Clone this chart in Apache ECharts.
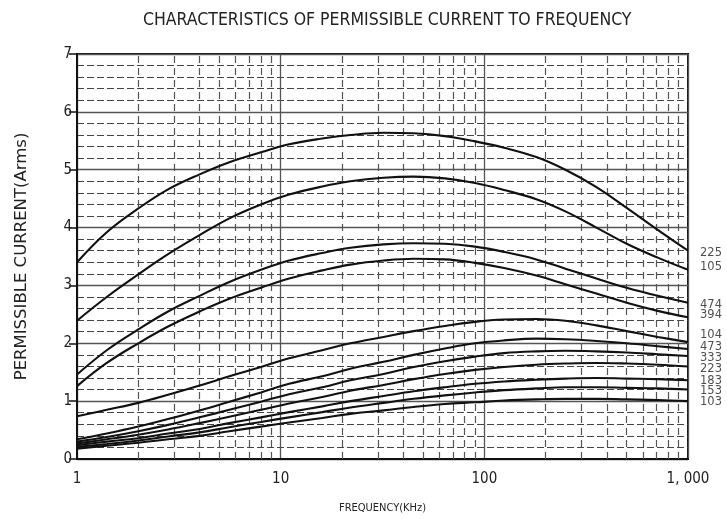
<!DOCTYPE html>
<html><head><meta charset="utf-8">
<script src="https://cdn.jsdelivr.net/npm/echarts@6/dist/echarts.min.js"></script>
<style>html,body{margin:0;padding:0;background:#fff}#c{width:727px;height:519px}</style>
</head><body><div id="c"></div>
<script>
const freqs = [1, 1.4, 2, 2.8, 4, 5.6, 8, 11, 16, 22, 32, 45, 64, 90, 125, 180, 250, 355, 500, 710, 1000];
const c225 = [3.40, 3.92, 4.33, 4.66, 4.92, 5.13, 5.30, 5.44, 5.54, 5.60, 5.64, 5.63, 5.58, 5.49, 5.38, 5.22, 5.00, 4.70, 4.34, 3.96, 3.60];
const c105 = [2.39, 2.80, 3.19, 3.54, 3.87, 4.16, 4.40, 4.57, 4.71, 4.80, 4.86, 4.88, 4.85, 4.77, 4.65, 4.49, 4.28, 4.00, 3.72, 3.48, 3.27];
const c474 = [1.46, 1.88, 2.24, 2.55, 2.82, 3.06, 3.27, 3.43, 3.56, 3.65, 3.71, 3.73, 3.72, 3.67, 3.58, 3.45, 3.29, 3.12, 2.96, 2.82, 2.70];
const c394 = [1.26, 1.66, 2.00, 2.29, 2.55, 2.77, 2.96, 3.12, 3.26, 3.36, 3.43, 3.46, 3.45, 3.39, 3.30, 3.17, 3.02, 2.86, 2.70, 2.56, 2.45];
const c104 = [0.74, 0.85, 0.97, 1.11, 1.27, 1.43, 1.59, 1.74, 1.88, 2.00, 2.11, 2.21, 2.30, 2.37, 2.41, 2.42, 2.39, 2.31, 2.21, 2.11, 2.02];
const c473 = [0.34, 0.44, 0.56, 0.69, 0.84, 0.99, 1.15, 1.30, 1.43, 1.56, 1.68, 1.80, 1.91, 2.00, 2.05, 2.08, 2.07, 2.04, 2.00, 1.95, 1.90];
const c333 = [0.30, 0.38, 0.48, 0.59, 0.72, 0.85, 0.99, 1.12, 1.24, 1.36, 1.47, 1.59, 1.69, 1.77, 1.83, 1.86, 1.87, 1.86, 1.84, 1.81, 1.78];
const c223 = [0.27, 0.34, 0.42, 0.51, 0.62, 0.73, 0.85, 0.96, 1.07, 1.18, 1.28, 1.38, 1.47, 1.54, 1.59, 1.63, 1.65, 1.66, 1.65, 1.63, 1.60];
const c183 = [0.24, 0.30, 0.36, 0.44, 0.52, 0.62, 0.72, 0.81, 0.91, 1.00, 1.09, 1.17, 1.24, 1.30, 1.34, 1.37, 1.39, 1.40, 1.39, 1.38, 1.36];
const c153 = [0.21, 0.26, 0.32, 0.39, 0.46, 0.55, 0.64, 0.72, 0.81, 0.89, 0.97, 1.04, 1.10, 1.15, 1.19, 1.22, 1.24, 1.24, 1.23, 1.22, 1.20];
const c103 = [0.18, 0.23, 0.28, 0.34, 0.40, 0.48, 0.56, 0.63, 0.71, 0.78, 0.84, 0.90, 0.95, 0.98, 1.01, 1.03, 1.04, 1.04, 1.03, 1.02, 1.00];
const curveNames = ['225', '105', '474', '394', '104', '473', '333', '223', '183', '153', '103'];
const curveValues = [c225, c105, c474, c394, c104, c473, c333, c223, c183, c153, c103];
const labelValues = [3.56, 3.32, 2.67, 2.48, 2.14, 1.93, 1.75, 1.56, 1.35, 1.18, 0.99];
const xMinorTicks = [2,3,4,5,6,7,8,9,20,30,40,50,60,70,80,90,200,300,400,500,600,700,800,900];
const yTicks = [0, 1, 2, 3, 4, 5, 6, 7];

const narrow = "'Liberation Sans Narrow', 'DejaVu Sans Condensed', sans-serif";
const chart = echarts.init(document.getElementById('c'));

const series = curveNames.map((n, k) => ({
  name: n, type: 'line', smooth: 0.4, symbol: 'none', z: 5,
  lineStyle: { color: '#111', width: 2.1 },
  data: freqs.map((f, i) => [f, curveValues[k][i]])
}));
series.push({
  type: 'scatter', symbolSize: 0, clip: false, z: 2, silent: true,
  data: labelValues.map((v, i) => [1000, v, curveNames[i]]),
  label: { show: true, position: 'right', distance: 12, formatter: p => p.data[2],
    fontSize: 11.5, color: '#222', fontFamily: 'DejaVu Sans' },
  markLine: {
    silent: true, symbol: ['none', 'none'], label: { show: false },
    lineStyle: { color: '#555', type: [7, 5], width: 1.2 },
    emphasis: { disabled: true },
    data: xMinorTicks.map(v => ({ xAxis: v }))
  }
});

chart.setOption({
  animation: false,
  backgroundColor: '#fff',
  title: { text: 'CHARACTERISTICS OF PERMISSIBLE CURRENT TO FREQUENCY', left: 138, top: 6,
    textStyle: { fontSize: 17.5, fontWeight: 'normal', fontFamily: narrow, color: '#222' } },
  grid: { left: 77, right: 39, top: 54, bottom: 56, show: true, borderColor: '#111', borderWidth: 2 },
  xAxis: {
    type: 'log', logBase: 10, min: 1, max: 1000,
    name: 'FREQUENCY(KHz)', nameLocation: 'middle', nameGap: 44,
    nameTextStyle: { fontSize: 11, fontFamily: narrow, color: '#222' },
    axisLine: { lineStyle: { color: '#111', width: 2 } },
    axisTick: { show: false },
    axisLabel: { fontSize: 15, fontFamily: narrow, color: '#222', margin: 13,
      formatter: v => v >= 1000 ? '1, 000' : String(v) },
    splitLine: { show: true, lineStyle: { color: '#555', width: 1.3 } }
  },
  yAxis: {
    type: 'value', min: 0, max: 7, interval: 1,
    name: 'PERMISSIBLE CURRENT(Arms)', nameLocation: 'middle', nameGap: 47,
    nameTextStyle: { fontSize: 16.5, fontFamily: "'DejaVu Sans', sans-serif", color: '#222' },
    axisLine: { show: true, lineStyle: { color: '#111', width: 2 } },
    axisTick: { show: true, length: 8, lineStyle: { color: '#111', width: 1.5 } },
    axisLabel: { fontSize: 15, fontFamily: narrow, color: '#222', margin: 5,
      formatter: v => yTicks.includes(v) ? String(v) : '' },
    splitLine: { show: true, lineStyle: { color: '#555', width: 1.3 } },
    minorTick: { show: false, splitNumber: 5 },
    minorSplitLine: { show: true, lineStyle: { color: '#444', width: 1.2, type: [7, 3] } }
  },
  series: series
});
</script></body></html>
